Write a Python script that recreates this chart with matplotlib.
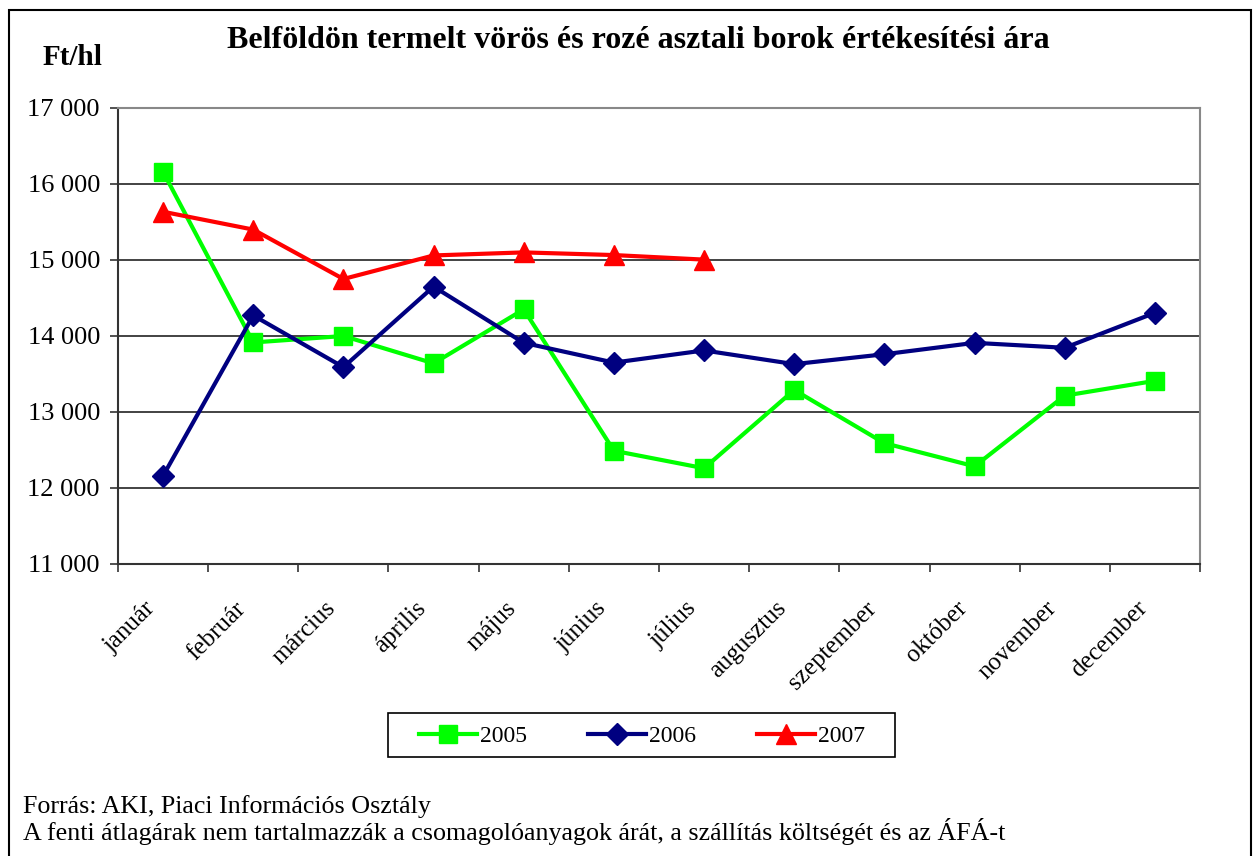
import numpy as np
import matplotlib
matplotlib.use('Agg')
import matplotlib.pyplot as plt
from matplotlib.patches import Rectangle
from matplotlib.ticker import FuncFormatter, MultipleLocator
import matplotlib.transforms as mtransforms

plt.rcParams['font.family'] = ['Liberation Serif', 'DejaVu Serif']

# adatok
months = ['január', 'február', 'március', 'április', 'május', 'június',
          'július', 'augusztus', 'szeptember', 'október', 'november', 'december']
y2005 = [16160, 13915, 14000, 13640, 14350, 12490, 12260, 13290, 12590, 12285, 13215, 13410]
y2006 = [12160, 14270, 13590, 14650, 13910, 13650, 13810, 13630, 13760, 13910, 13845, 14305]
y2007 = [15635, 15400, 14750, 15060, 15100, 15065, 15005]

W, H = 1259, 856
fig = plt.figure(figsize=(W / 100, H / 100), dpi=100)
ax = fig.add_axes([118 / W, 1 - 564 / H, (1200 - 118) / W, (564 - 108) / H])

x = np.arange(len(months))
ax.plot(x, y2005, color='#00FF00', lw=3, marker='s', ms=13.5, label='2005', zorder=3)
ax.plot(x, y2006, color='#000080', lw=3, marker='D', ms=11, label='2006', zorder=3)
ax.plot(x[:len(y2007)], y2007, color='#FF0000', lw=3, marker='^', ms=14, label='2007', zorder=3)

ax.set_xlim(-0.5, 11.5)
ax.set_ylim(11000, 17000)
ax.yaxis.set_major_locator(MultipleLocator(1000))
ax.yaxis.set_major_formatter(FuncFormatter(lambda v, p: '{:,.0f}'.format(v).replace(',', ' ')))
ax.grid(axis='y', color='#222222', lw=1.2)
ax.set_axisbelow(True)

ax.set_xticks(np.arange(-0.5, 12, 1))
ax.set_xticklabels([])
ax.set_xticks(x, minor=True)
ax.set_xticklabels(months, minor=True, rotation=45, ha='right', va='top',
                   rotation_mode='anchor', fontsize=18)
ax.tick_params(axis='x', which='minor', length=0, pad=24)
ax.tick_params(axis='x', which='major', length=6, width=1.2, color='#333333')
ax.tick_params(axis='y', length=6, width=1.2, color='#333333', labelsize=19, pad=7)
offset = mtransforms.ScaledTranslation(-19 / 100, 0, fig.dpi_scale_trans)
for lbl in ax.get_xticklabels(minor=True):
    lbl.set_transform(lbl.get_transform() + offset)

for s in ['top', 'right']:
    ax.spines[s].set_color('#888888')
    ax.spines[s].set_linewidth(1.5)
for s in ['left', 'bottom']:
    ax.spines[s].set_color('#333333')
    ax.spines[s].set_linewidth(1.5)

fig.text(638 / W, 1 - 48 / H, 'Belföldön termelt vörös és rozé asztali borok értékesítési ára',
         ha='center', va='baseline', fontsize=23, fontweight='bold')
fig.text(43 / W, 1 - 65 / H, 'Ft/hl', ha='left', va='baseline', fontsize=21, fontweight='bold')

# jelmagyarázat, keret külön rajzolva
leg = fig.legend(loc='center', bbox_to_anchor=(642 / W, 1 - 736 / H), ncol=3,
                 fontsize=17, frameon=False, handlelength=2.46,
                 columnspacing=2.55, handletextpad=0.15, borderpad=0, borderaxespad=0)
fig.patches.append(Rectangle((388 / W, 1 - 757 / H), (895 - 388) / W, 44 / H,
                             transform=fig.transFigure, fill=False, edgecolor='black', lw=1.2))

fig.text(23 / W, 1 - 813 / H, 'Forrás: AKI, Piaci Információs Osztály',
         ha='left', va='baseline', fontsize=18.7)
fig.text(23 / W, 1 - 840 / H,
         'A fenti átlagárak nem tartalmazzák a csomagolóanyagok árát, a szállítás költségét és az ÁFÁ-t',
         ha='left', va='baseline', fontsize=18.7)

fig.patches.append(Rectangle((9 / W, -0.05), (1251 - 9) / W, 1 - 10 / H + 0.05,
                             transform=fig.transFigure, fill=False, edgecolor='black', lw=1.5))

fig.savefig('out.png', dpi=100)
